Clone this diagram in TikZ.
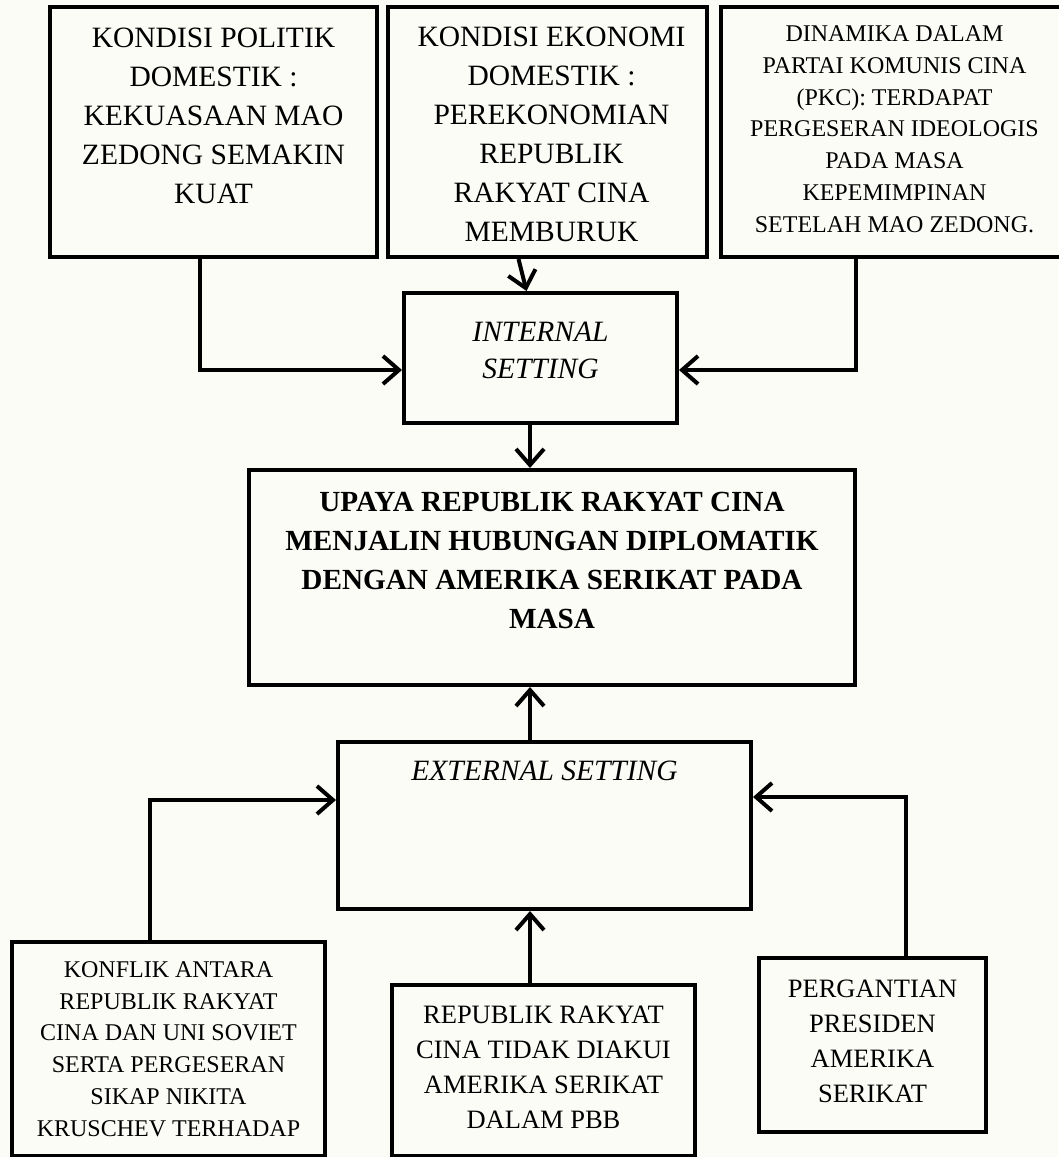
\documentclass[tikz,border=0pt]{standalone}
\usepackage{fontspec}
\setmainfont{Liberation Serif}
\usetikzlibrary{arrows.meta}

\definecolor{paper}{RGB}{252,252,247}

\begin{document}
\begin{tikzpicture}[x=1pt,y=-1pt,
    box/.style={draw,rectangle,line width=4pt,inner sep=0pt},
    txt/.style={anchor=base,align=center,inner sep=0pt},
    big/.style={font=\fontsize{29.5}{39}\selectfont},
    small/.style={font=\fontsize{24}{31.7}\selectfont},
    mid/.style={font=\fontsize{26.5}{35}\selectfont},
    arr/.style={line width=4pt,-{Straight Barb[length=16pt,width=28pt]}}]
  \fill[paper] (0,0) rectangle (1058,1157);
  \useasboundingbox (0,0) rectangle (1058,1157);

  \begin{scope}
    \node[box,minimum width=327pt,minimum height=250pt] (politik) at (213.5,132) {};
    \node[box,minimum width=319pt,minimum height=250pt] (ekonomi) at (547.5,132) {};
    \node[box,minimum width=347pt,minimum height=250pt] (dinamika) at (894.5,132) {};
    \node[box,minimum width=273pt,minimum height=130pt] (internal) at (540.5,358) {};
    \node[box,minimum width=606pt,minimum height=215pt] (upaya) at (552,577.5) {};
    \node[box,minimum width=413pt,minimum height=167pt] (external) at (544.5,825.5) {};
    \node[box,minimum width=313pt,minimum height=214pt] (konflik) at (168.5,1049) {};
    \node[box,minimum width=303pt,minimum height=171pt] (pbb) at (543.5,1070.5) {};
    \node[box,minimum width=227pt,minimum height=174pt] (presiden) at (872.5,1045) {};

    \node[txt,big] (politik-t) at (213.5,203) {KONDISI POLITIK\\DOMESTIK :\\KEKUASAAN MAO\\ZEDONG SEMAKIN\\KUAT};
    \node[txt,big] (ekonomi-t) at (551.5,241) {KONDISI EKONOMI\\DOMESTIK :\\PEREKONOMIAN\\REPUBLIK\\RAKYAT CINA\\MEMBURUK};
    \node[txt,small] (dinamika-t) at (894.5,232) {DINAMIKA DALAM\\PARTAI KOMUNIS CINA\\(PKC): TERDAPAT\\PERGESERAN IDEOLOGIS\\PADA MASA\\KEPEMIMPINAN\\SETELAH MAO ZEDONG.};
    \node[txt,big,font=\fontsize{29.5}{37}\selectfont\itshape] (internal-t) at (540.5,378) {INTERNAL\\SETTING};
    \node[txt,big,font=\fontsize{29.2}{38.7}\selectfont\bfseries] (upaya-t) at (552,628) {UPAYA REPUBLIK RAKYAT CINA\\MENJALIN HUBUNGAN DIPLOMATIK\\DENGAN AMERIKA SERIKAT PADA\\MASA};
    \node[txt,big,font=\fontsize{29.5}{38}\selectfont\itshape] (external-t) at (544.5,780) {EXTERNAL SETTING};
    \node[txt,small] (konflik-t) at (168.5,1136) {KONFLIK ANTARA\\REPUBLIK RAKYAT\\CINA DAN UNI SOVIET\\SERTA PERGESERAN\\SIKAP NIKITA\\KRUSCHEV TERHADAP};
    \node[txt,mid] (pbb-t) at (543.5,1128) {REPUBLIK RAKYAT\\CINA TIDAK DIAKUI\\AMERIKA SERIKAT\\DALAM PBB};
    \node[txt,mid] (presiden-t) at (872.5,1102) {PERGANTIAN\\PRESIDEN\\AMERIKA\\SERIKAT};

    \draw[arr] ([xshift=-13.5pt]politik.south) |- ([yshift=-12pt]internal.west);
    \draw[arr] ([xshift=-29pt]ekonomi.south) -- ([xshift=-14pt]internal.north);
    \draw[arr] ([xshift=-38.5pt]dinamika.south) |- ([yshift=-12pt]internal.east);
    \draw[arr] ([xshift=-10.5pt]internal.south) -- ([xshift=-10.5pt]internal.south |- upaya.north);
    \draw[arr] ([xshift=-14.5pt]external.north) -- ([xshift=-14.5pt]external.north |- upaya.south);
    \draw[arr] ([xshift=-18.5pt]konflik.north) |- ([yshift=25.5pt]external.west);
    \draw[arr] ([xshift=-13.5pt]pbb.north) -- ([xshift=-13.5pt]pbb.north |- external.south);
    \draw[arr] ([xshift=33.5pt]presiden.north) |- ([yshift=28.5pt]external.east);
  \end{scope}
\end{tikzpicture}
\end{document}
